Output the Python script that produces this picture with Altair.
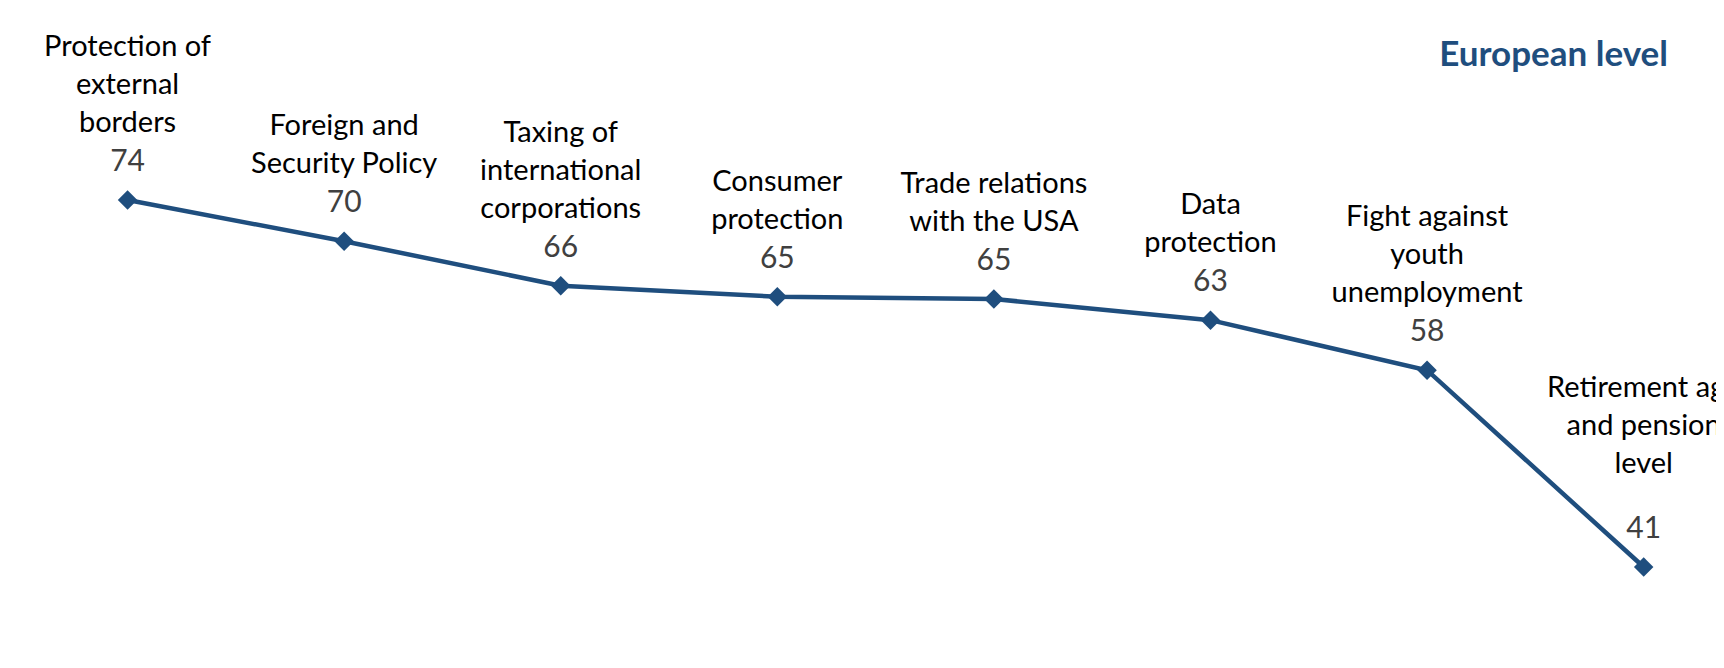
import altair as alt
import pandas as pd

categories = [
    "Protection of\nexternal\nborders",
    "Foreign and\nSecurity Policy",
    "Taxing of\ninternational\ncorporations",
    "Consumer\nprotection",
    "Trade relations\nwith the USA",
    "Data\nprotection",
    "Fight against\nyouth\nunemployment",
    "Retirement age\nand pension\nlevel",
]
values = [74.0, 70.3, 66.3, 65.3, 65.1, 63.2, 58.7, 41.0]
value_labels = ["74", "70", "66", "65", "65", "63", "58", "41"]
title_text = "European level"

df = pd.DataFrame({
    "idx": list(range(len(categories))),
    "category": categories,
    "value": values,
    "vlabel": value_labels,
})

W, H = 1708, 652
BLUE = "#1F4E7E"
FONT = "Lato"
LH = 38

xs = alt.Scale(domain=[-0.552, 7.334], nice=False, zero=False)
ys = alt.Scale(domain=[32.64, 91.27], nice=False, zero=False)
X = alt.X("idx:Q", scale=xs, axis=None)
Y = alt.Y("value:Q", scale=ys, axis=None)

base = alt.Chart(df).transform_calculate(
    nlines="length(split(datum.category, '\\n'))"
)

line = base.mark_line(color=BLUE, strokeWidth=4.5).encode(x=X, y=Y)
pts = base.mark_point(shape="diamond", filled=True, color=BLUE, size=380, opacity=1).encode(x=X, y=Y)

vtext = base.mark_text(font=FONT, fontSize=30, color="#404040", baseline="middle", align="center", dy=-38).encode(
    x=X, y=Y, text="vlabel:N")


def cat_layer(filt, dy):
    return base.transform_filter(filt).mark_text(
        font=FONT, fontSize=29, color="#000000", baseline="bottom", align="center",
        lineBreak="\n", lineHeight=LH, dy=dy).encode(x=X, y=Y, text="category:N")


c3 = cat_layer("datum.idx < 7 && datum.nlines == 3", -62 - 2 * LH)
c2 = cat_layer("datum.idx < 7 && datum.nlines == 2", -62 - 1 * LH)
clast = cat_layer("datum.idx == 7", -88 - 2 * LH)

title = alt.Chart(pd.DataFrame({"t": [title_text]})).mark_text(
    font=FONT, fontSize=35, fontWeight="bold", color=BLUE, align="right", baseline="middle").encode(
    x=alt.value(1660), y=alt.value(47), text="t:N")

chart = alt.layer(line, pts, vtext, c3, c2, clast, title).properties(
    width=W, height=H, padding=0, background="white",
    autosize=alt.AutoSizeParams(type="none"),
).configure_view(stroke=None)

chart.save("out.html", embed_options={"renderer": "svg", "actions": False})
